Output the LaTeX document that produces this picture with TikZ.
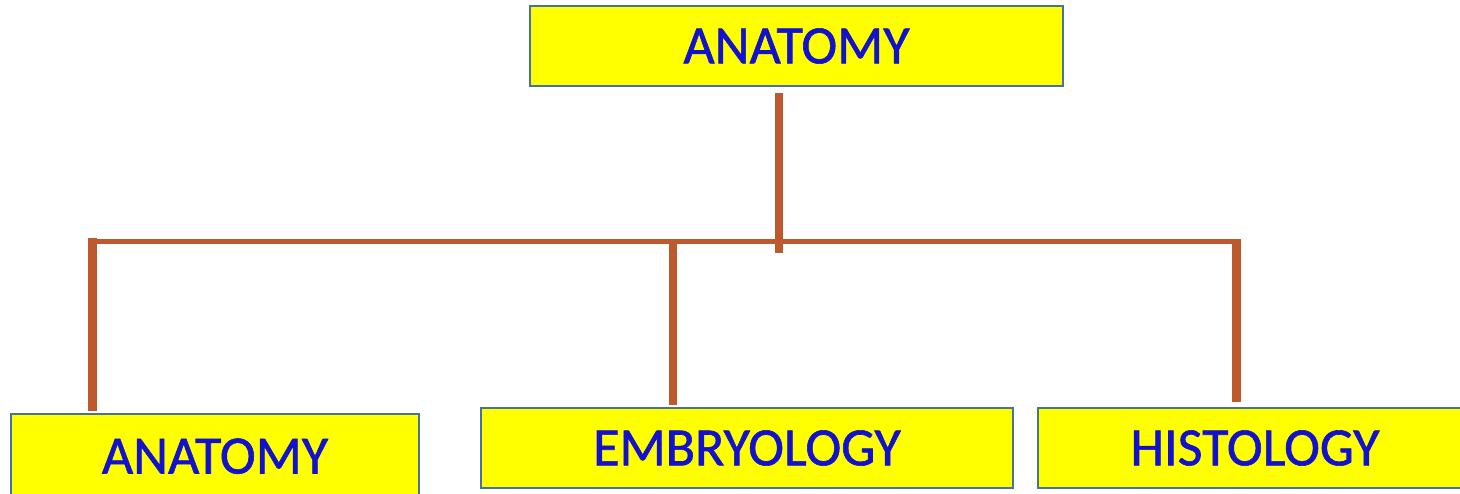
\documentclass[tikz,border=0pt]{standalone}
\usepackage{fontspec}
\setmainfont{Carlito}[FakeBold=1.1]
\definecolor{boxfill}{RGB}{255,255,0}
\definecolor{boxedge}{RGB}{70,114,160}
\definecolor{labeltext}{RGB}{18,18,204}
\definecolor{linkbrown}{RGB}{190,89,46}
\tikzset{
  topic/.style={draw=boxedge, line width=1.2pt, fill=boxfill, text=labeltext,
    rectangle, inner sep=0pt, minimum height=80pt,
    font=\fontsize{54}{64}\selectfont},
  link/.style={draw=linkbrown, line width=8.5pt},
  bus/.style={draw=linkbrown, line width=5pt}
}
\begin{document}
\begin{tikzpicture}[x=1pt,y=-1pt]
  \useasboundingbox (0,0) rectangle (1460,493);
  \clip (0,0) rectangle (1460,493);

  % boxes
  \node[topic, minimum width=533pt] (root) at (796.5,46) {ANATOMY};
  \node[topic, minimum width=408pt, minimum height=90pt] (anat) at (215,459) {\raisebox{6pt}{ANATOMY}};
  \node[topic, minimum width=532pt] (embr) at (747,448) {EMBRYOLOGY};
  \node[topic, minimum width=434pt] (hist) at (1255,448) {HISTOLOGY};

  % junction points of the tree
  \coordinate (rootlow) at (779,93);
  \coordinate (rootend) at (779,253);
  \coordinate (busL) at (88,241);
  \coordinate (busR) at (1241,241);
  \coordinate (anatTop) at (92.5,238);
  \coordinate (anatEnd) at (92.5,411);
  \coordinate (embrTop) at (673,244);
  \coordinate (embrEnd) at (673,405);
  \coordinate (histTop) at (1236.5,240);
  \coordinate (histEnd) at (1236.5,402);

  % connectors
  \draw[bus] (busL) -- (busR);
  \draw[link] (rootlow) -- (rootend);
  \draw[link] (anatTop) -- (anatEnd);
  \draw[link, line width=8pt] (embrTop) -- (embrEnd);
  \draw[link] (histTop) -- (histEnd);
\end{tikzpicture}
\end{document}
